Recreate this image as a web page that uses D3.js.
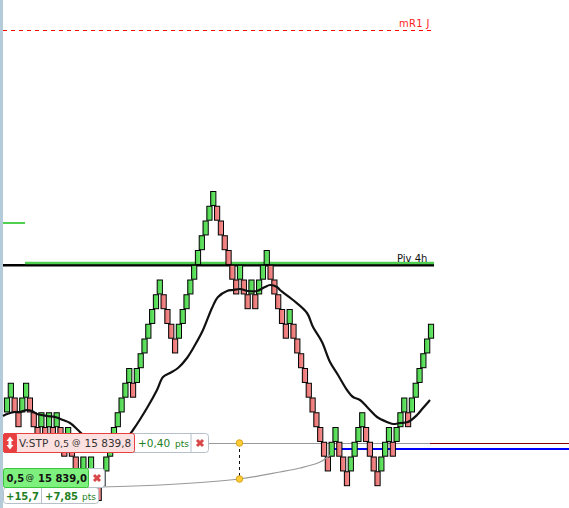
<!DOCTYPE html>
<html><head><meta charset="utf-8">
<script src="https://cdn.jsdelivr.net/npm/d3@7"></script>
<style>html,body{margin:0;padding:0;background:#fff;overflow:hidden}svg{display:block}text{font-family:"DejaVu Sans",sans-serif}</style>
</head><body>
<svg id="c" width="569" height="508"></svg>
<script>
// Brick levels in sequence, 0 = top of chart's peak brick, larger = lower price
const brickLevels = [14,13,14,15,14,13,14,15,16,15,16,15,16,15,16,17,16,17,18,19,18,19,18,19,20,19,18,17,16,15,14,13,12,13,12,11,10,9,8,7,6,7,8,9,10,9,8,7,6,5,4,3,2,1,0,1,2,3,4,5,6,5,6,7,6,7,6,5,4,5,6,7,8,9,8,9,10,11,12,13,14,15,16,17,18,17,16,17,18,19,18,17,16,15,16,17,18,19,18,17,16,17,16,15,14,15,14,13,12,11,10,9];
const maX = [3,7,15,20,27,32,37,47,55,63,70,78,83,90,110,125,133,147,157,163,170,178,187,195,203,212,218,227,233,240,248,257,265,270,277,280,293,307,313,322,330,338,347,353,360,368,377,387,393,400,408,417,423,430];
const maY = [416,414,412,412,410,411,414,416,417,420,423,430,435,442,450,440,430,408,390,377,373,368,358,345,330,308,297,291,290,289,291,291,287,285,287,290,300,313,327,342,362,375,390,397,400,408,417,422,424,423,422,415,408,400];
const curveX = [101,160,239,280,300,320,330];
const curveY = [487,485,479,472,468,462,455];

const svg = d3.select('#c');
const defs = svg.append('defs');
const grad=(id,a,b)=>{const g=defs.append('linearGradient').attr('id',id);g.append('stop').attr('offset','0%').attr('stop-color',a);g.append('stop').attr('offset','100%').attr('stop-color',b);};
grad('gUp','#4ad24a','#6eea6e');
grad('gDn','#ea6c6c','#f49494');
const x = d3.scaleLinear().domain([0,111]).range([7,431]);
const y = d3.scaleLinear().domain([0,20]).range([191,486]);
const brickH = y(1)-y(0), brickW = 5.2;

svg.append('rect').attr('x',0).attr('y',0).attr('width',3).attr('height',508).attr('fill','#b4ccda');

// reference lines
const hline=(x1,x2,yy,c,w,dash)=>svg.append('line').attr('x1',x1).attr('x2',x2).attr('y1',yy).attr('y2',yy).attr('stroke',c).attr('stroke-width',w).attr('stroke-dasharray',dash||null);
hline(3,431,30.5,'#f00',1,'4,4');
svg.append('text').attr('x',399).attr('y',27).attr('fill','#f22').attr('font-size',10).attr('letter-spacing',0.3).text('mR1 J');
hline(3,25,223,'#50d050',2);
hline(3,434,265.3,'#000',2.6);
hline(25,434,263,'#50d050',2.4);
svg.append('text').attr('x',397).attr('y',262).attr('fill','#111').attr('font-size',10).text('Piv 4h');
hline(209,430,443.5,'#999',1);
hline(430,569,443.5,'#800',1);
hline(334,569,449,'#00f',2);

// bricks
svg.append('g').selectAll('rect').data(brickLevels).join('rect')
 .attr('x',(d,i)=>x(i)-brickW/2).attr('y',d=>y(d)+0.5).attr('width',brickW).attr('height',brickH-0.8)
 .attr('fill',(d,i)=>(i===0||d<brickLevels[i-1])?'url(#gUp)':'url(#gDn)')
 .attr('stroke','#000').attr('stroke-width',1);

// MA
svg.append('path').datum(maX.map((v,i)=>[v,maY[i]]))
 .attr('d',d3.line().curve(d3.curveCatmullRom)).attr('fill','none').attr('stroke','#111').attr('stroke-width',2.2);

// order connector
svg.append('path').datum(curveX.map((v,i)=>[v,curveY[i]]))
 .attr('d',d3.line().curve(d3.curveCatmullRom)).attr('fill','none').attr('stroke','#999').attr('stroke-width',1.2);
svg.append('line').attr('x1',239.5).attr('x2',239.5).attr('y1',443).attr('y2',479).attr('stroke','#111').attr('stroke-dasharray','3,3');
svg.selectAll('circle').data([443,479]).join('circle').attr('cx',239.5).attr('cy',d=>d).attr('r',3.3).attr('fill','#fc3').attr('stroke','#d9a520');

// labels
const box=(x0,y0,w,h,fill,stroke,r)=>svg.append('rect').attr('x',x0).attr('y',y0).attr('width',w).attr('height',h).attr('rx',r||0).attr('fill',fill).attr('stroke',stroke);
const txt=(x0,y0,s,size,c,bold)=>svg.append('text').attr('x',x0).attr('y',y0).attr('font-size',size).attr('fill',c).attr('font-weight',bold?700:400).text(s);
const cross=(cx,cy)=>svg.append('path').attr('d',`M${cx-3},${cy-3}L${cx+3},${cy+3}M${cx+3},${cy-3}L${cx-3},${cy+3}`).attr('stroke','#d84848').attr('stroke-width',3);
const DG='#1f7f1f';
box(3.5,433.5,205,19,'#fff','#b5c0c8',3);
box(3.5,433.5,131,19,'#fde0e0','#e84040',2);
box(3.5,433.5,13,19,'#e84040','#e84040',2);
svg.append('path').attr('d','M10,436.5L13.5,441H11.5V445H13.5L10,449.5L6.5,445H8.5V441H6.5Z').attr('fill','#fff');
txt(19,447,'V:STP',10.5,'#333');
txt(54,447,'0,5',9.5,'#333');
txt(72,445,'@',8.5,'#333');
txt(84.5,447,'15 839,8',10.5,'#333');
txt(138,447,'+0,40',10.5,DG);
txt(175,447,'pts',9,DG);
svg.append('line').attr('x1',191).attr('x2',191).attr('y1',434).attr('y2',452).attr('stroke','#b5c0c8');
cross(200,443);

box(3.5,487.5,95,16,'#fff','#b5c0c8',3);
svg.append('line').attr('x1',41.5).attr('x2',41.5).attr('y1',487).attr('y2',504).attr('stroke','#b5c0c8');
txt(6,500,'+15,7',10,DG,true);
txt(45,500,'+7,85',10,DG,true);
txt(82,500,'pts',9,DG);
box(3.5,468.5,101,19,'#fff','#b5c0c8',3);
box(3.5,468.5,85,19,'#7ef07e','#3cc43c',2);
txt(6.5,482,'0,5',10,'#111',true);
txt(25.5,480,'@',8.5,'#111');
txt(38,482,'15 839,0',10,'#111',true);
cross(97,478);
</script>
</body></html>
